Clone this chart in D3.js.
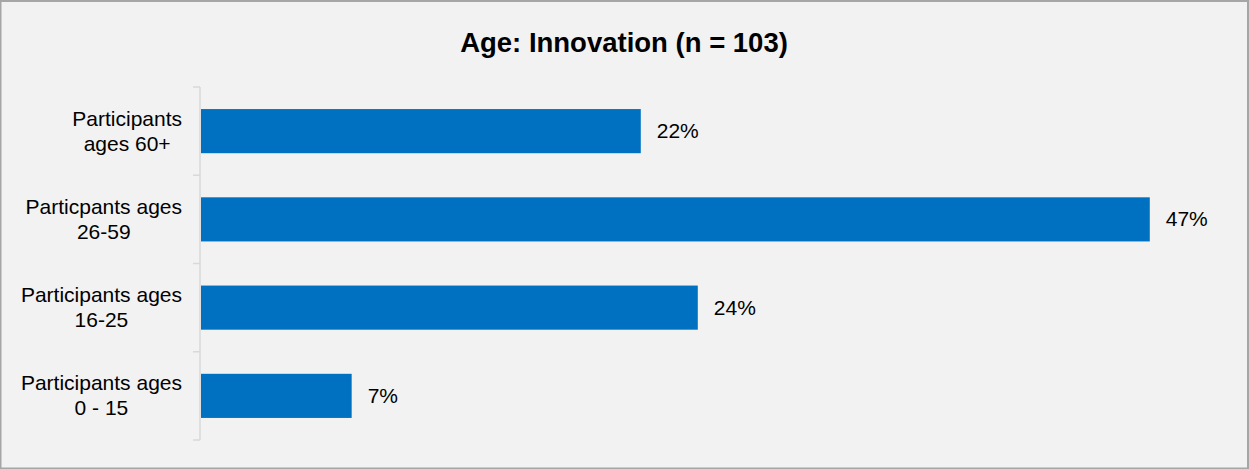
<!DOCTYPE html>
<html><head><meta charset="utf-8">
<script src="https://cdn.jsdelivr.net/npm/d3@7"></script>
<style>
html,body{margin:0;padding:0;background:#f2f2f2;}
svg{display:block;font-family:Arial,"Liberation Sans",sans-serif;}
</style></head>
<body>
<svg id="chart" width="1249" height="469"></svg>
<script>
const title = "Age: Innovation (n = 103)";
const categories = [
  ["Participants", "ages 60+"],
  ["Particpants ages", "26-59"],
  ["Participants ages", "16-25"],
  ["Participants ages", "0 - 15"]
];
const values = [21.6, 46.6, 24.4, 7.4];
const valueLabels = ["22%", "47%", "24%", "7%"];

const W = 1249, H = 469;
const svg = d3.select("#chart");
svg.append("rect").attr("x",0.5).attr("y",1).attr("width",W-1.5).attr("height",H-1.5)
  .attr("fill","#f2f2f2").attr("stroke","#a6a6a6").attr("stroke-width",2);

svg.append("text").attr("x",624).attr("y",52).attr("text-anchor","middle")
  .attr("font-size",27.5).attr("font-weight","bold").attr("fill","#000").text(title);

const idx = categories.map((d,i)=>i);
const y = d3.scaleBand().domain(idx).range([87,440]).paddingInner(0.5).paddingOuter(0.25);
const x = d3.scaleLinear().domain([0,50]).range([201,1219]);

// axis
const axis = d3.axisLeft(y).tickSize(0).tickFormat("");
const ag = svg.append("g").attr("transform","translate(200,0)").call(axis);
ag.select(".domain").attr("stroke","#d9d9d9").attr("stroke-width",1.5).attr("d","M0,87V440");
const bounds = d3.range(categories.length+1).map(i=>87 + i*(440-87)/categories.length);
svg.append("g").selectAll("line").data(bounds).join("line")
  .attr("x1",193).attr("x2",200).attr("y1",d=>d).attr("y2",d=>d)
  .attr("stroke","#d9d9d9").attr("stroke-width",1.5);

svg.append("g").selectAll("rect").data(values).join("rect")
  .attr("x",x(0)).attr("y",(d,i)=>y(i)).attr("width",d=>x(d)-x(0)).attr("height",y.bandwidth())
  .attr("fill","#0070c0");

svg.append("g").selectAll("text").data(values).join("text")
  .attr("x",d=>x(d)+16).attr("y",(d,i)=>y(i)+y.bandwidth()/2+7)
  .attr("font-size",21).attr("fill","#000").text((d,i)=>valueLabels[i]);

// category labels
const lg = svg.append("g");
categories.forEach((lines,i)=>{
  const cy = y(i)+y.bandwidth()/2;
  const t = lg.append("text").attr("font-size",21).attr("fill","#000").attr("text-anchor","middle");
  const lh = 25;
  const spans = lines.map((s,j)=>t.append("tspan").text(s));
  let maxW = 0;
  spans.forEach(sp=>{ maxW = Math.max(maxW, sp.node().getComputedTextLength()); });
  const cx = 182 - maxW/2;
  spans.forEach((sp,j)=>sp.attr("x",cx).attr("y", cy + 7 + (j-(lines.length-1)/2)*lh));
});
</script>
</body></html>
